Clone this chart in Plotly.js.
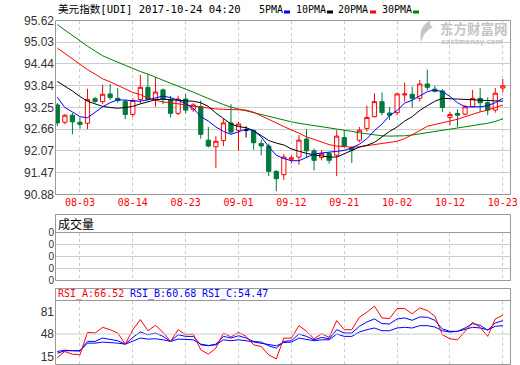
<!DOCTYPE html>
<html><head><meta charset="utf-8">
<script src="https://cdn.plot.ly/plotly-3.0.1.min.js"></script>
<style>html,body{margin:0;padding:0;background:#fff;}#chart{width:520px;height:365px;}</style>
</head><body><div id="chart"></div>
<script>
// ---- data ----
const tickIdx = [3, 10, 17, 24, 31, 38, 45, 52, 59];
const tickLabels = ['08-03','08-14','08-23','09-01','09-12','09-21','10-02','10-12','10-23'];
const priceTicks = [90.88, 91.47, 92.07, 92.66, 93.25, 93.84, 94.44, 95.03, 95.62];
const volTicks = [0, 1, 2, 3, 4];
const volTickLabels = ['0','0','0','0','0'];
const rsiTicks = [15, 48, 81];

const openP  = [93.32,92.85,93.04,92.85,92.82,93.49,93.41,93.62,93.50,93.41,
                93.06,93.47,93.80,93.47,93.73,93.46,93.09,93.48,93.20,93.27,
                92.36,92.18,92.35,92.83,92.63,92.63,92.62,92.27,92.20,91.51,
                91.42,91.84,91.90,92.39,92.07,91.89,92.00,91.95,92.43,92.16,
                92.36,92.68,93.00,93.41,93.10,93.11,93.59,93.61,93.50,93.89,
                93.75,93.70,92.98,93.09,93.07,93.27,93.50,93.38,93.18,93.78];
const highP  = [93.37,93.07,93.10,92.97,93.76,93.54,93.87,93.89,93.78,93.47,
                93.50,94.14,94.17,94.07,93.77,93.57,93.57,93.62,93.37,93.44,
                92.72,92.47,92.95,93.34,92.86,92.74,92.65,92.38,92.27,91.54,
                91.98,91.95,92.50,92.66,92.13,92.09,92.04,92.63,92.63,92.18,
                92.72,93.30,93.64,93.66,93.26,93.66,93.93,93.82,94.00,94.28,
                93.84,93.75,93.13,93.20,93.32,93.73,93.78,93.53,93.78,94.03];
const lowP   = [92.74,92.79,92.52,92.67,92.66,93.38,93.34,93.46,93.38,92.93,
                92.99,93.37,93.44,93.27,93.34,92.98,93.04,93.09,93.13,92.40,
                92.16,91.60,92.20,92.52,92.07,92.43,92.10,91.95,91.38,90.97,
                91.28,91.72,91.69,91.90,91.54,91.81,91.72,91.38,92.16,91.74,
                92.30,92.59,92.98,93.04,92.91,93.04,93.41,93.25,93.41,93.71,
                93.66,93.13,92.77,92.72,93.04,93.26,93.13,93.04,93.11,93.66];
const closeP = [92.83,93.04,92.86,92.79,93.47,93.41,93.61,93.52,93.44,93.06,
                93.44,93.80,93.47,93.67,93.47,93.09,93.48,93.18,93.32,92.52,
                92.20,92.33,92.83,92.58,92.80,92.63,92.29,92.20,91.51,91.31,
                91.90,91.88,92.36,92.07,91.81,92.00,91.81,92.47,92.20,92.09,
                92.63,92.98,93.41,93.11,93.04,93.62,93.62,93.50,93.89,93.80,
                93.69,93.25,93.06,93.04,93.27,93.50,93.38,93.18,93.64,93.84];

const ma5  = [93.53,93.25,93.13,93.00,92.97,93.12,93.27,93.38,93.46,93.45,
              93.43,93.42,93.46,93.51,93.56,93.52,93.45,93.35,93.23,93.00,
              92.88,92.72,92.60,92.52,92.58,92.66,92.62,92.45,92.18,91.95,
              91.86,91.80,91.80,91.90,91.98,92.01,92.03,92.04,92.08,92.15,
              92.25,92.40,92.62,92.80,93.03,93.17,93.37,93.45,93.57,93.68,
              93.73,93.68,93.55,93.38,93.27,93.26,93.27,93.30,93.38,93.50];
const ma10 = [93.96,93.84,93.70,93.55,93.42,93.35,93.28,93.25,93.23,93.25,
              93.28,93.35,93.40,93.46,93.48,93.47,93.45,93.43,93.42,93.38,
              93.28,93.10,92.95,92.80,92.73,92.70,92.62,92.48,92.35,92.28,
              92.23,92.12,92.05,92.00,91.96,91.93,91.90,91.90,91.98,92.08,
              92.17,92.22,92.30,92.45,92.60,92.72,92.88,93.00,93.17,93.30,
              93.42,93.50,93.48,93.48,93.47,93.46,93.46,93.45,93.43,93.42];
const ma20 = [94.87,94.72,94.56,94.41,94.28,94.16,94.03,93.95,93.85,93.76,
              93.66,93.60,93.50,93.45,93.40,93.38,93.36,93.32,93.29,93.26,
              93.23,93.21,93.20,93.20,93.19,93.18,93.12,93.03,92.93,92.83,
              92.73,92.65,92.55,92.45,92.38,92.30,92.24,92.20,92.18,92.17,
              92.18,92.21,92.24,92.27,92.30,92.33,92.40,92.50,92.62,92.74,
              92.79,92.83,92.87,92.93,93.00,93.07,93.13,93.18,93.24,93.32];
const ma30 = [95.51,95.36,95.20,95.05,94.92,94.79,94.66,94.57,94.48,94.39,
              94.30,94.23,94.16,94.07,93.98,93.91,93.83,93.76,93.67,93.58,
              93.49,93.40,93.33,93.26,93.21,93.15,93.10,93.04,92.99,92.95,
              92.90,92.86,92.82,92.79,92.76,92.73,92.71,92.68,92.64,92.60,
              92.56,92.53,92.50,92.48,92.47,92.47,92.48,92.50,92.53,92.57,
              92.61,92.64,92.67,92.70,92.73,92.76,92.79,92.82,92.87,92.94];

const rsiA = [13.5,22.4,18.5,17.5,50.5,49.5,57.8,54.4,49.5,33.2,
              54.4,69.2,52.9,60.8,50.5,37.2,54.4,47.0,48.0,24.9,
              18.5,27.4,49.5,43.6,50.5,44.6,32.2,29.8,17.5,11.6,
              42.1,42.1,60.3,52.0,41.1,48.5,43.1,67.7,54.4,54.4,
              72.6,80.0,88.9,71.6,70.7,85.4,85.4,77.6,86.4,82.5,
              74.1,47.0,41.1,39.6,52.0,65.2,57.9,44.6,70.2,75.6];
const rsiB = [19.9,23.4,23.9,23.4,37.2,37.2,42.1,40.6,38.2,33.2,
              43.1,51.0,47.0,49.5,44.6,37.2,47.0,44.6,44.6,32.2,
              30.8,33.2,44.6,42.1,45.5,42.1,37.2,36.2,30.8,27.3,
              37.2,38.2,48.0,44.6,39.6,43.1,41.1,54.4,49.5,49.5,
              59.3,65.7,70.2,63.3,62.8,70.2,71.6,68.2,73.1,72.6,
              68.2,55.4,52.0,52.0,56.9,63.3,60.8,53.4,64.3,67.7];
const rsiC = [22.4,24.4,23.4,23.4,34.7,34.7,36.2,35.7,34.7,33.2,
              38.2,42.1,40.6,41.1,39.6,37.2,40.6,39.6,39.6,33.2,
              31.3,32.2,39.6,38.2,39.6,38.2,36.2,34.7,32.2,30.8,
              35.7,36.2,42.1,40.6,38.2,39.6,39.6,48.0,44.6,44.6,
              51.0,54.4,56.9,52.9,52.9,56.9,57.9,56.9,60.3,60.3,
              58.3,52.9,51.0,52.0,54.4,57.9,56.9,54.4,59.3,60.3];

// ---- helpers ----
const W = 520, H = 365;
const fx = p => p / W;
const fy = p => 1 - p / H;
const idx = openP.map((_, i) => i);
const RED = '#ff0000', GREEN = '#00793a', BLUE = '#0000ff';
const GRID = '#cccccc', BORDER = '#999999', WM = '#c4c4c4';
const MONO = 'DejaVu Sans Mono, Liberation Mono, monospace';
const CJK = 'DejaVu Sans Mono, Noto Sans CJK SC, sans-serif';

const isDoji = i => openP[i] === closeP[i];
const normal = idx.filter(i => !isDoji(i));
const doji = idx.filter(i => isDoji(i));
const pick = (arr, ids) => ids.map(i => arr[i]);

const traces = [
  {type:'candlestick', x: normal, open: pick(openP, normal), high: pick(highP, normal),
   low: pick(lowP, normal), close: pick(closeP, normal), xaxis:'x', yaxis:'y',
   increasing:{line:{color:RED, width:1}, fillcolor:'#ffffff'},
   decreasing:{line:{color:GREEN, width:1}, fillcolor:GREEN},
   whiskerwidth:0, hoverinfo:'skip', showlegend:false},
  {type:'candlestick', x: doji, open: pick(openP, doji), high: pick(highP, doji),
   low: pick(lowP, doji), close: pick(closeP, doji), xaxis:'x', yaxis:'y',
   increasing:{line:{color:'#000000', width:1}, fillcolor:'#000000'},
   decreasing:{line:{color:'#000000', width:1}, fillcolor:'#000000'},
   whiskerwidth:0, hoverinfo:'skip', showlegend:false},
  {type:'scatter', mode:'lines', x: idx, y: ma30, line:{color:'#008000', width:1}, xaxis:'x', yaxis:'y', hoverinfo:'skip'},
  {type:'scatter', mode:'lines', x: idx, y: ma20, line:{color:RED, width:1}, xaxis:'x', yaxis:'y', hoverinfo:'skip'},
  {type:'scatter', mode:'lines', x: idx, y: ma10, line:{color:'#000000', width:1}, xaxis:'x', yaxis:'y', hoverinfo:'skip'},
  {type:'scatter', mode:'lines', x: idx, y: ma5, line:{color:BLUE, width:1}, xaxis:'x', yaxis:'y', hoverinfo:'skip'},
  {type:'scatter', mode:'lines', x: [null], y: [null], xaxis:'x2', yaxis:'y2', hoverinfo:'skip'},
  {type:'scatter', mode:'lines', x: idx, y: rsiC, line:{color:BLUE, width:1}, xaxis:'x3', yaxis:'y3', hoverinfo:'skip'},
  {type:'scatter', mode:'lines', x: idx, y: rsiB, line:{color:BLUE, width:1}, xaxis:'x3', yaxis:'y3', hoverinfo:'skip'},
  {type:'scatter', mode:'lines', x: idx, y: rsiA, line:{color:RED, width:1}, xaxis:'x3', yaxis:'y3', hoverinfo:'skip'}
];

const xRange = [-0.305, 59.95];
const xBase = {domain:[fx(55), fx(510)], range:xRange, tickmode:'array', tickvals:tickIdx,
  showgrid:true, gridcolor:GRID, griddash:'3px,3px', gridwidth:1, zeroline:false,
  showline:false, ticks:'', fixedrange:true};
const yFont = {family:'Liberation Sans, Arial, sans-serif', size:12, color:'#333333'};
const volFont = {family:'Liberation Sans, Arial, sans-serif', size:10, color:'#333333'};

const layout = {
  width: W, height: H, margin:{l:0, r:0, t:0, b:0}, paper_bgcolor:'#ffffff', plot_bgcolor:'#ffffff',
  showlegend:false, boxgap:0.2,
  xaxis: Object.assign({}, xBase, {anchor:'y', ticktext:tickLabels,
    tickfont:{family:MONO, size:10, color:RED}, rangeslider:{visible:false}}),
  yaxis: {domain:[fy(194.5), fy(20.5)], range:[90.88, 95.62], tickmode:'array', tickvals:priceTicks,
    ticktext: priceTicks.map(v => v.toFixed(2)), showgrid:true, gridcolor:GRID, gridwidth:1,
    zeroline:false, ticks:'', tickfont:yFont, anchor:'x', fixedrange:true},
  xaxis2: Object.assign({}, xBase, {anchor:'y2', showticklabels:false}),
  yaxis2: {domain:[fy(280.5), fy(232.5)], range:[0, 4], tickmode:'array', tickvals:volTicks,
    ticktext:volTickLabels, showgrid:true, gridcolor:GRID, gridwidth:1, zeroline:false, ticks:'',
    tickfont:volFont, anchor:'x2', fixedrange:true},
  xaxis3: Object.assign({}, xBase, {anchor:'y3', showticklabels:false}),
  yaxis3: {domain:[fy(364), fy(300.5)], range:[4.1, 97.2], tickmode:'array', tickvals:rsiTicks,
    ticktext: rsiTicks.map(String), showgrid:false, zeroline:false, ticks:'',
    tickfont:yFont, anchor:'x3', fixedrange:true},
  shapes: [
    {type:'line', xref:'x3', yref:'y3', x0:xRange[0], x1:xRange[1], y0:48, y1:48, line:{color:GRID, width:1}},
    {type:'rect', xref:'paper', yref:'paper', x0:fx(55.5), x1:fx(510.5), y0:fy(194.5), y1:fy(20.5), line:{color:BORDER, width:1}},
    {type:'rect', xref:'paper', yref:'paper', x0:fx(55.5), x1:fx(510.5), y0:fy(280.5), y1:fy(214.5), line:{color:BORDER, width:1}},
    {type:'line', xref:'paper', yref:'paper', x0:fx(55.5), x1:fx(510.5), y0:fy(232.5), y1:fy(232.5), line:{color:BORDER, width:1}},
    {type:'rect', xref:'paper', yref:'paper', x0:fx(55.5), x1:fx(510.5), y0:fy(364.5), y1:fy(288.5), line:{color:BORDER, width:1}},
    {type:'line', xref:'paper', yref:'paper', x0:fx(55.5), x1:fx(510.5), y0:fy(300.5), y1:fy(300.5), line:{color:BORDER, width:1}},
    {type:'rect', xref:'paper', yref:'paper', x0:fx(284), x1:fx(290), y0:fy(13.5), y1:fy(10.5), line:{width:0}, fillcolor:BLUE},
    {type:'rect', xref:'paper', yref:'paper', x0:fx(327), x1:fx(333), y0:fy(13.5), y1:fy(10.5), line:{width:0}, fillcolor:'#000000'},
    {type:'rect', xref:'paper', yref:'paper', x0:fx(370), x1:fx(376), y0:fy(13.5), y1:fy(10.5), line:{width:0}, fillcolor:RED},
    {type:'rect', xref:'paper', yref:'paper', x0:fx(413), x1:fx(419), y0:fy(13.5), y1:fy(10.5), line:{width:0}, fillcolor:'#008000'},
    // watermark logo swoosh
    {type:'path', xref:'paper', yref:'paper', line:{width:0}, fillcolor:WM,
     path:'M ' + fx(431) + ' ' + fy(20) + ' Q ' + fx(418) + ' ' + fy(26) + ' ' + fx(421) + ' ' + fy(42) +
          ' Q ' + fx(424) + ' ' + fy(31) + ' ' + fx(433) + ' ' + fy(27) + ' Q ' + fx(428) + ' ' + fy(25) + ' ' + fx(431) + ' ' + fy(20) + ' Z'}
  ],
  annotations: [
    {text:'美元指数[UDI] 2017-10-24 04:20', x:fx(57), y:fy(9.5), xref:'paper', yref:'paper', xanchor:'left', yanchor:'middle', showarrow:false, borderpad:0, font:{family:CJK, size:10.6, color:'#000000'}},
    {text:'5PMA', x:fx(258), y:fy(9.5), xref:'paper', yref:'paper', xanchor:'left', yanchor:'middle', showarrow:false, borderpad:0, font:{family:MONO, size:10, color:'#000000'}},
    {text:'10PMA', x:fx(295), y:fy(9.5), xref:'paper', yref:'paper', xanchor:'left', yanchor:'middle', showarrow:false, borderpad:0, font:{family:MONO, size:10, color:'#000000'}},
    {text:'20PMA', x:fx(337), y:fy(9.5), xref:'paper', yref:'paper', xanchor:'left', yanchor:'middle', showarrow:false, borderpad:0, font:{family:MONO, size:10, color:'#000000'}},
    {text:'30PMA', x:fx(381), y:fy(9.5), xref:'paper', yref:'paper', xanchor:'left', yanchor:'middle', showarrow:false, borderpad:0, font:{family:MONO, size:10, color:'#000000'}},
    {text:'<b>东方财富网</b>', x:fx(474), y:fy(28), xref:'paper', yref:'paper', xanchor:'center', yanchor:'middle', showarrow:false, borderpad:0, font:{family:'Noto Sans CJK SC', size:13.5, color:WM}},
    {text:'<b>eastmoney.com</b>', x:fx(472), y:fy(42), xref:'paper', yref:'paper', xanchor:'center', yanchor:'middle', showarrow:false, borderpad:0, font:{family:'DejaVu Sans', size:7, color:WM}},
    {text:'成交量', x:fx(57), y:fy(223.5), xref:'paper', yref:'paper', xanchor:'left', yanchor:'middle', showarrow:false, borderpad:0, font:{family:'Noto Sans CJK SC', size:12, color:'#000000'}},
    {text:'RSI_A:66.52', x:fx(57.3), y:fy(294), xref:'paper', yref:'paper', xanchor:'left', yanchor:'middle', showarrow:false, borderpad:0, font:{family:MONO, size:10, color:RED}},
    {text:'RSI_B:60.68', x:fx(129.3), y:fy(294), xref:'paper', yref:'paper', xanchor:'left', yanchor:'middle', showarrow:false, borderpad:0, font:{family:MONO, size:10, color:BLUE}},
    {text:'RSI_C:54.47', x:fx(201.3), y:fy(294), xref:'paper', yref:'paper', xanchor:'left', yanchor:'middle', showarrow:false, borderpad:0, font:{family:MONO, size:10, color:BLUE}}
  ]
};

Plotly.newPlot('chart', traces, layout, {staticPlot:true, displayModeBar:false});
</script></body></html>
